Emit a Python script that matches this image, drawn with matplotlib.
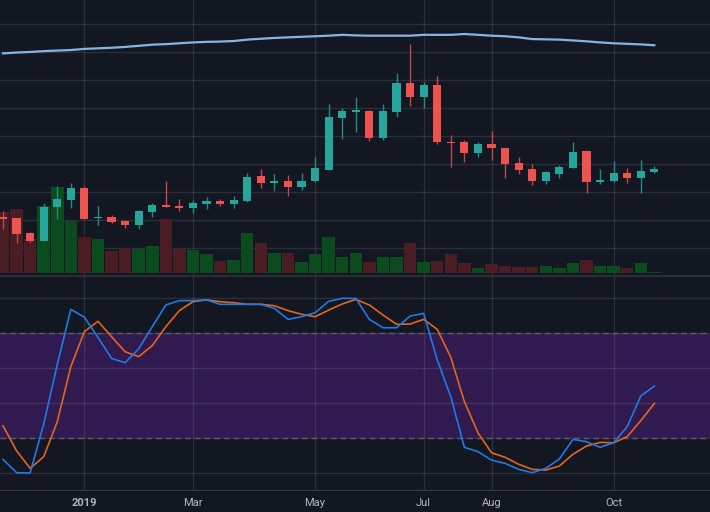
import numpy as np
import pandas as pd
import matplotlib
matplotlib.use("Agg")
import matplotlib.pyplot as plt

# weekly bars
dates = pd.date_range("2018-11-26", periods=49, freq="7D")

opens = [159.1, 159.1, 153.8, 151.1, 163.0, 165.6, 169.9, 159.1, 159.7, 158.1,
         156.7, 161.5, 163.8, 163.6, 162.8, 164.2, 165.3, 164.1, 165.4, 174.2,
         171.8, 172.5, 170.4, 172.3, 176.4, 194.8, 196.9, 197.4, 187.6, 196.9,
         207.2, 202.4, 206.7, 186.3, 186.3, 182.5, 185.4, 184.2, 178.7, 176.5,
         172.5, 175.0, 177.1, 183.0, 172.0, 172.3, 175.2, 173.6, 175.7]
closes = [158.9, 153.5, 151.1, 163.2, 166.0, 169.9, 159.0, 159.6, 157.8, 156.7,
          161.7, 163.8, 163.2, 162.8, 164.4, 165.3, 164.2, 165.7, 173.9, 171.8,
          172.5, 170.4, 172.5, 177.0, 195.1, 197.2, 197.5, 187.6, 197.2, 207.2,
          202.4, 206.7, 186.4, 185.9, 182.5, 185.4, 184.0, 178.4, 176.3, 172.4,
          175.5, 177.4, 182.6, 172.0, 172.7, 175.2, 173.6, 176.0, 176.5]
highs = [161.7, 159.2, 154.2, 164.6, 170.7, 171.6, 170.5, 163.4, 160.4, 158.5,
         161.9, 164.7, 172.4, 166.0, 165.6, 166.7, 166.0, 167.0, 175.2, 176.8,
         174.8, 174.4, 175.1, 180.8, 199.8, 198.4, 202.4, 197.5, 199.8, 210.7,
         221.0, 207.7, 209.8, 188.8, 187.0, 186.3, 190.2, 184.2, 181.0, 178.4,
         175.9, 178.1, 186.2, 183.0, 176.7, 179.5, 177.0, 179.9, 177.7]
lows = [155.3, 150.4, 150.6, 151.0, 158.9, 162.7, 158.8, 156.7, 157.5, 155.7,
        155.3, 159.6, 163.1, 161.8, 161.1, 162.4, 163.6, 162.9, 165.0, 170.0,
        168.9, 167.2, 169.2, 171.9, 176.3, 187.3, 189.8, 186.6, 187.0, 195.1,
        199.1, 198.3, 185.6, 177.5, 179.3, 180.8, 179.9, 173.3, 174.9, 171.0,
        171.3, 173.3, 177.1, 168.2, 171.3, 172.0, 171.7, 168.1, 175.2]
volume = [61.7, 64.7, 34.0, 67.0, 86.0, 52.0, 35.7, 34.0, 21.7, 25.4,
          23.7, 27.0, 54.4, 25.0, 23.0, 18.7, 11.7, 12.7, 40.0, 30.4,
          19.7, 19.7, 10.7, 19.0, 35.7, 16.4, 19.7, 10.7, 15.7, 16.4,
          30.4, 11.0, 12.4, 19.0, 9.4, 4.7, 8.7, 6.7, 5.4, 5.4,
          6.7, 4.7, 9.7, 13.4, 6.7, 6.7, 4.7, 9.7, 1.0]
ma = [217.8, 218.1, 218.3, 218.6, 218.8, 219.0, 219.4, 219.6, 219.8, 220.1,
      220.5, 220.9, 221.1, 221.4, 221.7, 221.9, 222.0, 222.2, 222.7, 223.0,
      223.3, 223.5, 223.7, 223.9, 224.1, 224.4, 224.2, 224.1, 224.1, 224.1,
      224.1, 224.4, 224.4, 224.4, 224.7, 224.4, 224.1, 223.9, 223.5, 222.9,
      222.8, 222.7, 222.4, 222.1, 221.7, 221.4, 221.2, 221.0, 220.7]
stoch_k = [7.8, 0.2, 0.0, 28.0, 62.0, 93.5, 89.0, 77.5, 65.5, 63.0,
           71.0, 83.6, 96.0, 98.5, 98.5, 98.9, 96.4, 96.4, 96.4, 96.4,
           94.1, 87.8, 89.3, 91.6, 98.1, 99.8, 99.8, 87.8, 83.0, 83.0,
           89.7, 91.2, 64.6, 43.6, 14.7, 12.2, 7.4, 5.5, 2.1, 0.2,
           2.7, 8.0, 19.2, 17.9, 14.7, 17.3, 26.5, 44.0, 49.7]
stoch_d = [27.0, 12.7, 2.7, 9.3, 29.3, 60.8, 80.8, 86.7, 77.9, 69.3,
           66.5, 72.8, 83.6, 92.8, 97.9, 98.9, 97.9, 97.3, 96.4, 96.4,
           95.6, 92.8, 90.7, 89.3, 93.1, 96.6, 99.2, 96.0, 90.3, 85.0,
           85.1, 87.8, 82.1, 66.1, 40.8, 23.0, 11.6, 9.0, 5.0, 2.1,
           1.7, 4.0, 10.7, 15.4, 17.5, 17.3, 20.8, 29.9, 39.8]

tick_dates = ["2019-01-07", "2019-03-04", "2019-05-06", "2019-07-01", "2019-08-05", "2019-10-07"]
tick_labels = ["2019", "Mar", "May", "Jul", "Aug", "Oct"]

bg = "#131722"
up, down = "#26a69a", "#ef5350"

o = np.array(opens); c = np.array(closes)
h = np.array(highs); l = np.array(lows)
x = np.arange(len(dates))
rising = c >= o
tick_pos = [int(np.where(dates == pd.Timestamp(d))[0][0]) for d in tick_dates]
xlim = (-0.22, 52.1)

plt.rcParams["font.family"] = ["Roboto", "DejaVu Sans"]
fig = plt.figure(figsize=(7.1, 5.12), dpi=100)
fig.patch.set_facecolor(bg)

top_rect = [0, 1 - 275.5 / 512, 1, 275.5 / 512]

# volume pane (behind price)
axv = fig.add_axes(top_rect)
axv.set_facecolor(bg)
vcol = np.where(rising, "#0c4b1e", "#4a1c24")
axv.bar(x, volume, width=0.92, color=vcol, zorder=1)
axv.set_ylim(-0.8, 274.7)
axv.set_xlim(*xlim)
axv.set_xticks(tick_pos)
axv.set_yticks(np.arange(-2.7, 274, 28.1))
axv.grid(True, color="white", alpha=0.1, lw=1)
axv.set_axisbelow(True)
axv.tick_params(length=0, labelbottom=False, labelleft=False)
for s in axv.spines.values():
    s.set_visible(False)

# price pane
ax = fig.add_axes(top_rect)
ax.patch.set_alpha(0)
ax.set_xlim(*xlim)
ax.set_ylim(138.75, 236.8)
body_bottom = np.minimum(o, c)
body_h = np.maximum(np.abs(c - o), 0.5)
colors = np.where(rising, up, down)
wick_c = np.where(rising, "#1f8a80", "#c4444a")
ax.vlines(x, l, h, colors=wick_c, lw=1, zorder=2)
ax.bar(x, body_h, bottom=body_bottom, width=0.6, color=colors, zorder=3)
ax.plot(x, ma, color="#86b4e0", lw=1.6, zorder=4)
ax.set_xticks([])
ax.set_yticks([])
for s in ax.spines.values():
    s.set_visible(False)

# stochastic pane
ax2 = fig.add_axes([0, 1 - 490 / 512, 1, (490 - 277) / 512])
ax2.set_facecolor(bg)
ax2.set_xlim(*xlim)
ax2.set_ylim(-9.7, 112)
ax2.axhspan(20, 80, color="#301a4f", zorder=0.2, lw=0)
ax2.set_yticks([0, 20, 40, 60, 80, 100])
ax2.set_xticks(tick_pos)
ax2.set_xticklabels(tick_labels)
ax2.grid(True, color="white", alpha=0.1, lw=1)
ax2.set_axisbelow(True)
for lvl in (20, 80):
    ax2.axhline(lvl, color="#5f5a72", lw=1, ls=(0, (4, 3)), zorder=1)
ax2.plot(x, stoch_d, color="#e3651d", lw=1.2, zorder=3)
ax2.plot(x, stoch_k, color="#1f7ae6", lw=1.2, zorder=4)
ax2.tick_params(axis="x", length=0, pad=6, colors="#b2b5be", labelsize=8)
ax2.tick_params(axis="y", length=0, labelleft=False)
ax2.get_xticklabels()[0].set_fontweight("bold")
for s in ax2.spines.values():
    s.set_visible(False)
ax2.spines["bottom"].set_visible(True)
ax2.spines["bottom"].set_color("#363a45")

# pane separator
fig.add_artist(plt.Line2D([0, 1], [1 - 276.2 / 512] * 2, color="#2a2e39", lw=1.5))

fig.savefig("out.png", dpi=100, facecolor=bg)
